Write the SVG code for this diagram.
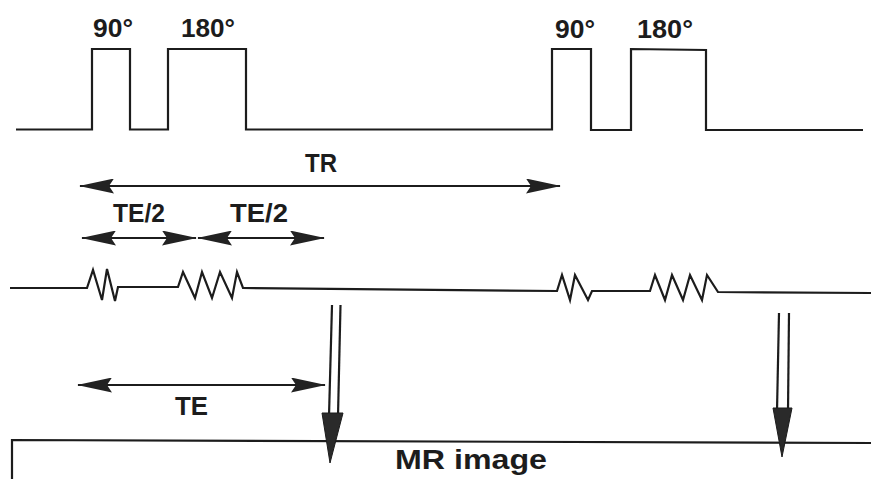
<svg xmlns="http://www.w3.org/2000/svg" width="871" height="479" viewBox="0 0 871 479">
<style>
.ln{fill:none;stroke:#1c1c1c;stroke-width:2.2;stroke-linejoin:miter;stroke-linecap:butt}
.lbl{font-family:"Liberation Sans",Arial,sans-serif;font-weight:bold;fill:#1c1c1c}
.head{fill:#2a2a2a;stroke:#1c1c1c;stroke-width:1}
</style>
<defs>
<marker id="ah" markerUnits="userSpaceOnUse" markerWidth="35" markerHeight="15" viewBox="0 0 35 15" refX="34" refY="7.5" orient="auto-start-reverse">
<path d="M0,0 L35,7.5 L0,15 L5,7.5 z" fill="#222222"/>
</marker>
</defs>
<rect width="871" height="479" fill="#ffffff"/>

<g id="rf-pulses">
<polyline class="ln" points="16,129.5 92,129.5 92,49 130,49 130,129.5 168,129.5 168,49 246,49 246,129.5 552,129.5 552,49 591,49 591,130 631,130 631,49 706,50 706,130 863,130"/>
</g>

<g id="labels-pulses">
<text class="lbl" x="93" y="37" font-size="25" textLength="40" lengthAdjust="spacingAndGlyphs">90°</text>
<text class="lbl" x="181" y="37" font-size="25" textLength="54" lengthAdjust="spacingAndGlyphs">180°</text>
<text class="lbl" x="555" y="38" font-size="25" textLength="40" lengthAdjust="spacingAndGlyphs">90°</text>
<text class="lbl" x="637" y="38" font-size="25" textLength="56" lengthAdjust="spacingAndGlyphs">180°</text>
</g>

<g id="signal">
<polyline class="ln" points="10,288 87,288 93,270 102,300 107,269 115,301 118,287 178,287 183,272 195,298 202,272 212,298 220,272 232,298 237,272 243,288 557,291 562,275 570,300 575,275 588,300 592,291 650,291 655,275 665,300 672,275 683,300 690,275 702,300 707,275 718,292 871,293"/>
</g>

<g id="image-line">
<polyline class="ln" points="12,479 12,440 871,443"/>
<text class="lbl" x="395" y="469" font-size="28" textLength="152" lengthAdjust="spacingAndGlyphs">MR image</text>
</g>

<g id="connectors">
<line class="ln" x1="80" y1="186" x2="560" y2="186" marker-start="url(#ah)" marker-end="url(#ah)"/>
<line class="ln" x1="82" y1="238" x2="196" y2="238" marker-start="url(#ah)" marker-end="url(#ah)"/>
<line class="ln" x1="198" y1="238" x2="324" y2="238" marker-start="url(#ah)" marker-end="url(#ah)"/>
<line class="ln" x1="78" y1="385" x2="325" y2="385" marker-start="url(#ah)" marker-end="url(#ah)"/>
<g id="echo-arrow-1">
<line class="ln" x1="332" y1="305" x2="329" y2="416"/>
<line class="ln" x1="340.5" y1="305" x2="338" y2="416"/>
<path class="head" d="M322,413 L343,413 L330,463 z"/>
</g>
<g id="echo-arrow-2">
<line class="ln" x1="779" y1="313" x2="777" y2="411"/>
<line class="ln" x1="789" y1="313" x2="788" y2="411"/>
<path class="head" d="M773,408 L792,408 L782,457 z"/>
</g>
</g>

<g id="labels-timing">
<text class="lbl" x="305" y="172" font-size="26" textLength="32" lengthAdjust="spacingAndGlyphs">TR</text>
<text class="lbl" x="113" y="222" font-size="25" textLength="52" lengthAdjust="spacingAndGlyphs">TE/2</text>
<text class="lbl" x="230" y="222" font-size="25" textLength="58" lengthAdjust="spacingAndGlyphs">TE/2</text>
<text class="lbl" x="175" y="415" font-size="26" textLength="33" lengthAdjust="spacingAndGlyphs">TE</text>
</g>
</svg>
